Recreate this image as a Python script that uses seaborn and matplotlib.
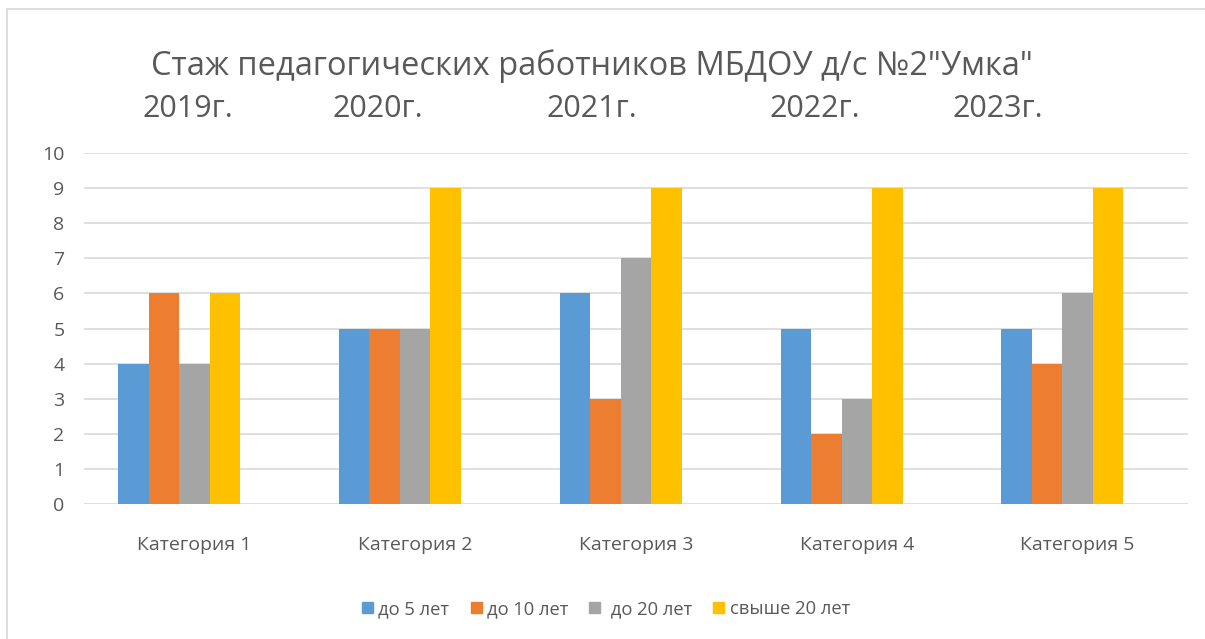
import pandas as pd
import seaborn as sns
import matplotlib.pyplot as plt
from matplotlib.lines import Line2D

categories = ["Категория 1", "Категория 2", "Категория 3", "Категория 4", "Категория 5"]
series_names = ["до 5 лет", "до 10 лет", " до 20 лет", "свыше 20 лет"]
do5 = [4, 5, 6, 5, 5]
do10 = [6, 5, 3, 2, 4]
do20 = [4, 5, 7, 3, 6]
over20 = [6, 9, 9, 9, 9]
colors = ["#5B9BD5", "#ED7D31", "#A5A5A5", "#FFC000"]
years = ["2019г.", "2020г.", "2021г.", "2022г.", "2023г."]
year_x = [188, 378, 592, 815, 998]

rows = []
for name, vals in zip(series_names, [do5, do10, do20, over20]):
    for c, v in zip(categories, vals):
        rows.append({"cat": c, "series": name, "value": v})
df = pd.DataFrame(rows)
# the source chart has an empty fifth series slot, which shifts the groups left
hue_order = series_names + ["_empty"]

sns.set_style("white")
plt.rcParams['font.family'] = ['Open Sans', 'DejaVu Sans']
text_color = "#595959"

fig = plt.figure(figsize=(12.05, 6.39), dpi=100)
ax = fig.add_axes([84 / 1205, 1 - 504 / 639, 1104 / 1205, 351 / 639])

sns.barplot(data=df, x="cat", y="value", hue="series", hue_order=hue_order,
            palette=colors + ["#ffffff"], width=0.69, linewidth=0, saturation=1,
            ax=ax, legend=False)

ax.set_ylim(0, 10)
ax.set_xlim(-0.5, 4.5)
ax.set_yticks(range(0, 11))
ax.yaxis.grid(True, color="#d9d9d9", linewidth=1.2)
ax.set_axisbelow(True)
for s in ax.spines.values():
    s.set_visible(False)
ax.set_xlabel("")
ax.set_ylabel("")
ax.tick_params(axis="both", length=0, labelsize=14, colors=text_color)
ax.tick_params(axis="x", pad=23)
ax.tick_params(axis="y", pad=14)

handles = [plt.Rectangle((0, 0), 1, 1, color=c) for c in colors]
fig.legend(handles, series_names, loc="center", bbox_to_anchor=(606 / 1205, 1 - 609 / 639),
           ncol=4, frameon=False, fontsize=13.2, labelcolor=text_color,
           handlelength=0.6, handleheight=0.6, handletextpad=0.3, columnspacing=1.15)

fig.text(592 / 1205, 1 - 66 / 639, 'Стаж педагогических работников МБДОУ д/с №2"Умка"',
         ha="center", va="center", fontsize=23.5, color=text_color)
for y, x in zip(years, year_x):
    fig.text(x / 1205, 1 - 109 / 639, y, ha="center", va="center", fontsize=22, color=text_color)

# chart border
fig.add_artist(Line2D([7 / 1205, 1], [1 - 9 / 639, 1 - 9 / 639], color="#d9d9d9", lw=1.2))
fig.add_artist(Line2D([7 / 1205, 7 / 1205], [0, 1 - 9 / 639], color="#d9d9d9", lw=1.2))

fig.savefig("out.png", dpi=100)
